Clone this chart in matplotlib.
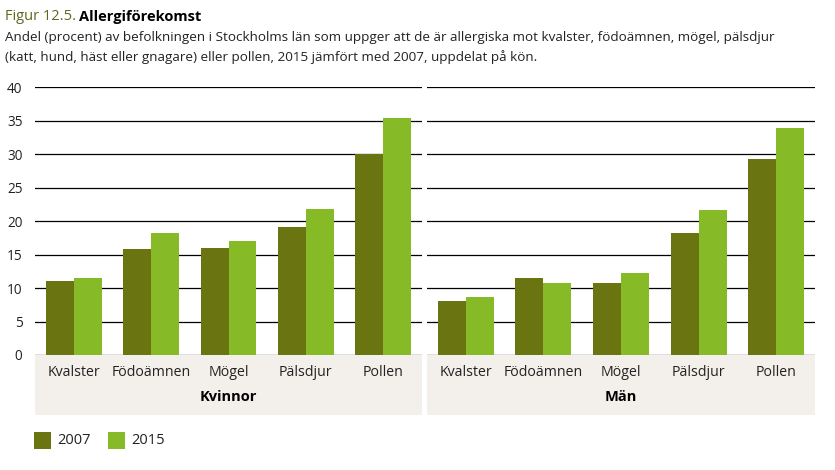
import matplotlib
matplotlib.use("Agg")
import matplotlib.pyplot as plt
import numpy as np
from matplotlib.patches import Rectangle

plt.rcParams['font.family'] = ['Open Sans', 'DejaVu Sans']

categories = ["Kvalster", "Födoämnen", "Mögel", "Pälsdjur", "Pollen"]
kvinnor_2007 = [11.0, 15.8, 16.0, 19.1, 30.0]
kvinnor_2015 = [11.5, 18.2, 17.0, 21.8, 35.4]
man_2007 = [8.0, 11.5, 10.7, 18.3, 29.3]
man_2015 = [8.6, 10.7, 12.2, 21.6, 33.9]
yticks = [0, 5, 10, 15, 20, 25, 30, 35, 40]

c07 = "#6a7410"
c15 = "#86bb27"
band = "#f3efeb"
txt = "#222222"

W, H = 835, 470
fig = plt.figure(figsize=(W / 100, H / 100), dpi=100)

def fx(px):
    return px / W

def fy(py):
    return 1 - py / H

y0, y40 = 355, 87.3
panels = [(35, 422, kvinnor_2007, kvinnor_2015, "Kvinnor", True),
          (427, 815, man_2007, man_2015, "Män", False)]

x = np.arange(len(categories))
bw = 0.36
for left, right, v07, v15, name, first in panels:
    # category band behind the axes
    fig.patches.append(Rectangle((fx(left), fy(415)), fx(right - left), (415 - y0) / H,
                                 transform=fig.transFigure, facecolor=band, edgecolor="none", zorder=-1))
    ax = fig.add_axes([fx(left), fy(y0), fx(right - left), (y0 - y40) / H])
    ax.bar(x - bw / 2, v07, bw, color=c07, zorder=3)
    ax.bar(x + bw / 2, v15, bw, color=c15, zorder=3)
    ax.set_xlim(-0.5, len(categories) - 0.5)
    ax.set_ylim(0, 40)
    ax.set_yticks(yticks)
    for t in yticks:
        ax.axhline(t, color="black", lw=0.9, zorder=1)
    for s in ax.spines.values():
        s.set_visible(False)
    ax.patch.set_alpha(0)
    ax.set_xticks(x)
    ax.set_xticklabels(categories, fontsize=10.2, color=txt)
    ax.tick_params(axis="x", length=0, pad=7)
    if first:
        ax.tick_params(axis="y", length=0, pad=9, labelsize=9.8, labelcolor=txt)
    else:
        ax.tick_params(axis="y", length=0, labelleft=False)
    fig.text(fx((left + right) / 2), fy(397), name, ha="center", va="center",
             fontsize=10.5, fontweight="bold", color="black")

# title
r = fig.canvas.get_renderer()
t1 = fig.text(fx(5), fy(17), "Figur 12.5.", fontsize=10.5, color="#5a6a1c", va="center")
bb = t1.get_window_extent(r)
fig.text(bb.x1 / W + 3 / W, fy(17), "Allergiförekomst", fontsize=10.5, fontweight="bold",
         color="black", va="center")
fig.text(fx(5), fy(38), "Andel (procent) av befolkningen i Stockholms län som uppger att de är allergiska mot kvalster, födoämnen, mögel, pälsdjur",
         fontsize=9.7, color=txt, va="center")
fig.text(fx(5), fy(57), "(katt, hund, häst eller gnagare) eller pollen, 2015 jämfört med 2007, uppdelat på kön.",
         fontsize=9.7, color=txt, va="center")

# legend
fig.patches.append(Rectangle((fx(34), fy(449)), fx(17), 17 / H, transform=fig.transFigure,
                             facecolor=c07, edgecolor="none"))
fig.text(fx(57), fy(441), "2007", fontsize=10.5, color=txt, va="center")
fig.patches.append(Rectangle((fx(108), fy(449)), fx(17), 17 / H, transform=fig.transFigure,
                             facecolor=c15, edgecolor="none"))
fig.text(fx(131), fy(441), "2015", fontsize=10.5, color=txt, va="center")

fig.savefig("out.png", dpi=100)
